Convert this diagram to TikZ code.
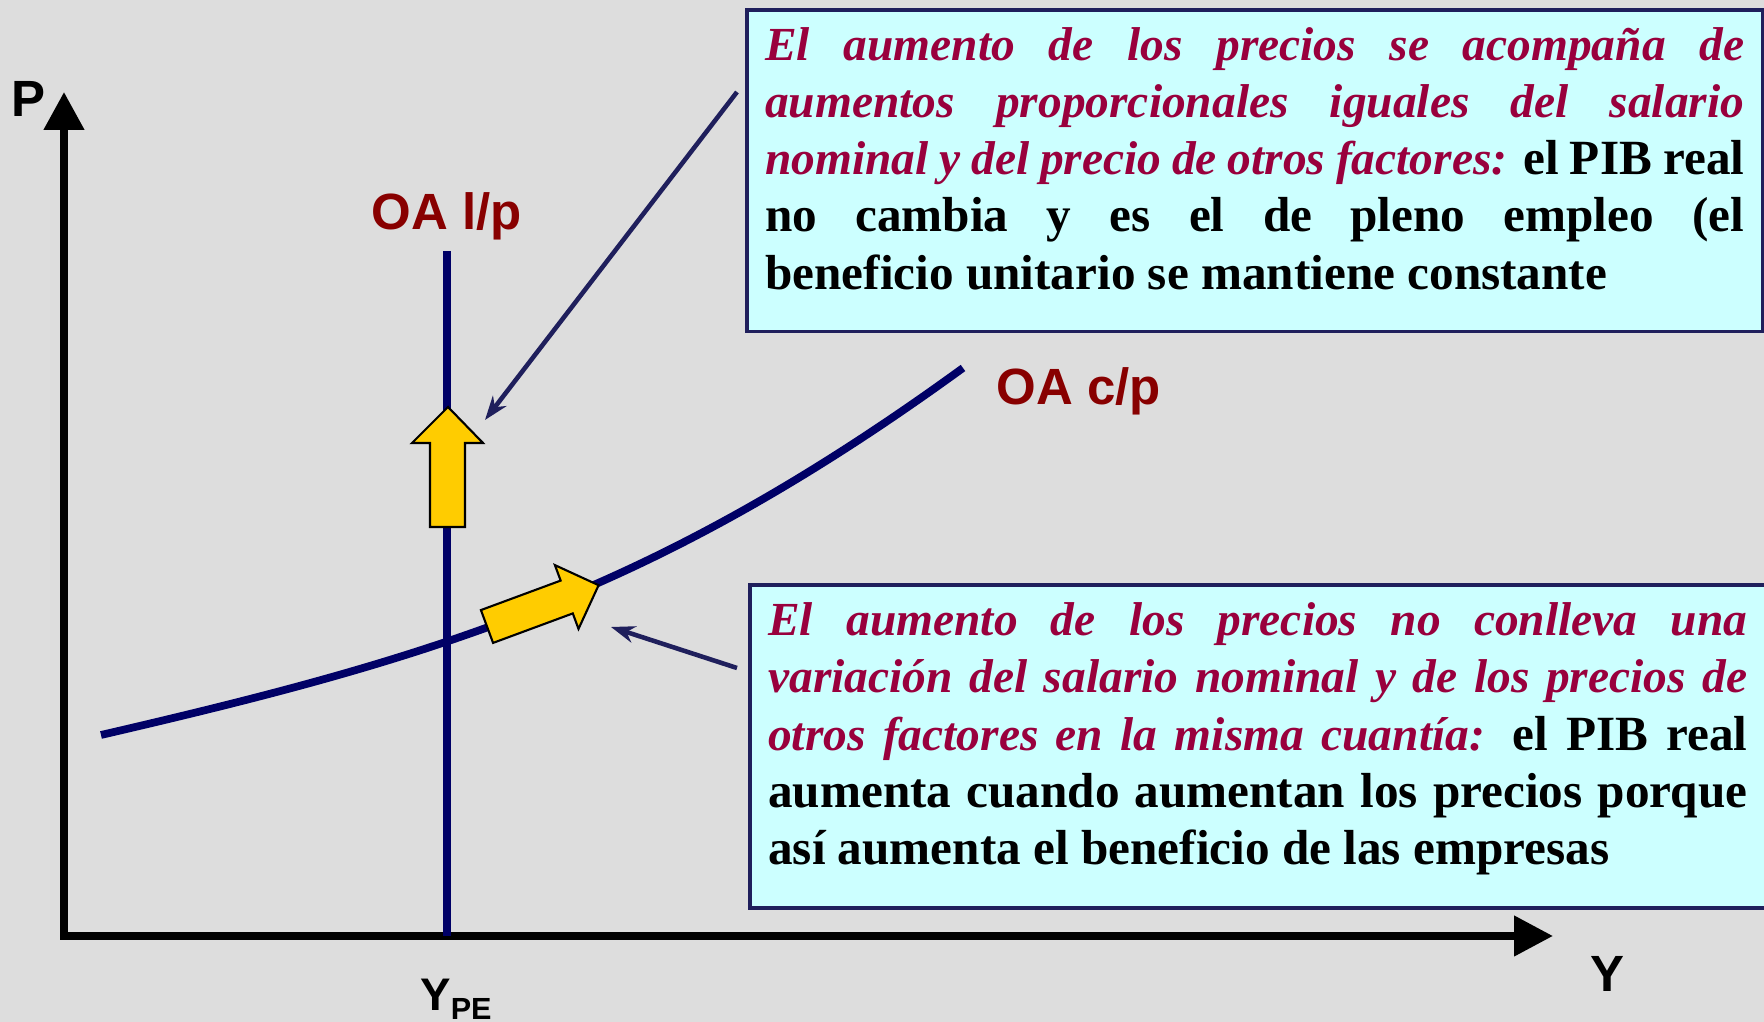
\documentclass[tikz,border=0pt]{standalone}
\usepackage{fontspec}
\setmainfont{Liberation Serif}
\setsansfont{Liberation Sans}
\usetikzlibrary{positioning}
\usetikzlibrary{arrows.meta}
\definecolor{granito}{HTML}{DDDDDD}
\definecolor{cian}{HTML}{CCFFFF}
\definecolor{marino}{HTML}{000066}
\definecolor{borde}{HTML}{1F1F5C}
\definecolor{granate}{HTML}{99003D}
\definecolor{rojooa}{HTML}{880000}
\definecolor{amarillo}{HTML}{FFCC00}
\newcommand{\cursiva}[1]{{\fontsize{13.5}{16.3}\selectfont\textcolor{granate}{\textit{#1}}}}
\newcommand{\bajo}{\rule[-2.5mm]{0pt}{0pt}}
\tikzset{
  eje/.style={line width=2.2pt, line join=miter,
    {Triangle[width=3.9mm,length=3.8mm]}-{Triangle[width=3.9mm,length=3.9mm]}},
  etiq/.style={inner sep=0pt, font=\sffamily\bfseries\fontsize{14.5}{17}\selectfont},
  cuadro/.style={draw=borde, line width=1pt, fill=cian, anchor=north west,
    text width=97.9mm, inner xsep=1.85mm, inner ysep=0pt, align=justify,
    minimum width=101.6mm, font=\bfseries\fontsize{14}{16.3}\selectfont},
  flecha/.style={fill=amarillo, draw=black, line width=0.6pt, line join=miter},
  puntero/.style={draw=borde, line width=1.3pt, -{Stealth[length=2.4mm,width=1.7mm]}},
}

\begin{document}
\begin{tikzpicture}[x=0.1mm, y=-0.1mm]
\fill[granito] (0,0) rectangle (1764,1022);
\useasboundingbox (0,0) rectangle (1764,1022);

% ejes
\coordinate (ptop) at (64,92);
\coordinate (xfin) at (1553,936);
\draw[eje] (ptop) |- (xfin);
\node[etiq, anchor=base west] (labP) at (11,117) {P};
\node[etiq, anchor=base west] (labY) at (1590,992) {Y};

% OA l/p
\coordinate (lpTop) at (447,251);
\coordinate (lpBase) at (447,936);
\draw[marino, line width=2pt] (lpTop) -- (lpBase);
\node[etiq, text=rojooa, above=1mm of lpTop] (lp) {OA l/p};
\node[etiq, font=\sffamily\bfseries\fontsize{13}{15}\selectfont,
  below=4.2mm of lpBase, xshift=0.9mm] (ype)
  {Y\raisebox{-2.8pt}{\fontsize{8.7}{9}\selectfont PE}};

% OA c/p
\coordinate (cpIni) at (101,735);
\coordinate (cpFin) at (963,368);
\draw[marino, line width=2.2pt] (cpIni) .. controls (442,656) and (656,591) .. (cpFin);
\node[etiq, text=rojooa, anchor=base west] (cp) at (996,405) {OA c/p};

% flechas amarillas
\draw[flecha] (430,527) -- (430,443) -- (412,443) -- (448,407) -- (483,443)
  -- (465,443) -- (465,527) -- cycle;
\begin{scope}[shift={(487,626.5)}, rotate=20.3]
\draw[flecha] (0,-17.5) -- (85,-17.5) -- (85,-34) -- (119,0) -- (85,34)
  -- (85,17.5) -- (0,17.5) -- cycle;
\end{scope}

% cuadros
\node[cuadro, minimum height=32.2mm] (cuadro1) at (745,8) {\hyphenpenalty=10000
\cursiva{El aumento de los precios se acompaña de\linebreak
aumentos proporcionales iguales del salario\linebreak
nominal y del precio de otros factores:} el PIB real\linebreak
no cambia y es el de pleno empleo (el\linebreak
beneficio unitario se mantiene constante\bajo};
\node[cuadro, minimum height=32.3mm] (cuadro2) at (748,583) {\hyphenpenalty=10000
\cursiva{El aumento de los precios no conlleva una\linebreak
variación del salario nominal y de los precios de\linebreak
otros factores en la misma cuantía:} el PIB real\linebreak
aumenta cuando aumentan los precios porque\linebreak
así aumenta el beneficio de las empresas\bajo};

% punteros
\coordinate (p1) at (737,92);
\coordinate (t1) at (485,420);
\coordinate (p2) at (737,668);
\coordinate (t2) at (611,627);
\draw[puntero] (p1) -- (t1);
\draw[puntero] (p2) -- (t2);
\end{tikzpicture}
\end{document}
